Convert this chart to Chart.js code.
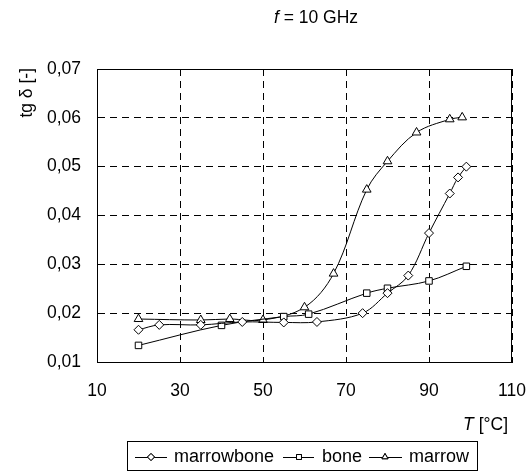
<!DOCTYPE html>
<html><head><meta charset="utf-8">
<script src="https://cdn.jsdelivr.net/npm/chart.js"></script>
<style>html,body{margin:0;padding:0;background:#fff}#wrap{width:531px;height:472px}</style>
</head><body><div id="wrap"><canvas id="c" width="531" height="472"></canvas></div>
<script>
const marrowboneT = [20,25,35,45,55,63,74,80,85,90,95,97,99];
const marrowboneV = [0.0166,0.0176,0.0176,0.0182,0.0181,0.0182,0.0200,0.0241,0.0277,0.0364,0.0445,0.0478,0.0500];
const boneT = [20,40,55,61,75,80,90,99];
const boneV = [0.0134,0.0175,0.0193,0.0198,0.0241,0.0251,0.0266,0.0296];
const marrowT = [20,35,42,50,60,67,75,80,87,95,98];
const marrowV = [0.0188,0.0186,0.0188,0.0186,0.0212,0.0281,0.0453,0.0511,0.0570,0.0597,0.0601];
const seriesNames = ['marrowbone','bone','marrow'];
const xTicks = [10,30,50,70,90,110];
const yTicks = [0.01,0.02,0.03,0.04,0.05,0.06,0.07];

const FONT = '"Liberation Sans", Arial, sans-serif';
const FS = 17.5;
const LFS = 18;
function pts(xs, ys){ return xs.map((x,i)=>({x:x, y:ys[i]})); }
function ds(label, data, style, r){
  return {label, data, borderColor:'#000', borderWidth:1, backgroundColor:'#fff',
    pointStyle:style, pointRadius:r, pointHoverRadius:r, pointBorderColor:'#000',
    pointBackgroundColor:'#fff', pointBorderWidth:1, tension:0.35, fill:false};
}
const decor = {
  id:'decor',
  afterDraw(chart){
    const ctx = chart.ctx, a = chart.chartArea;
    ctx.save();
    ctx.strokeStyle = '#000'; ctx.lineWidth = 1; ctx.setLineDash([]);
    ctx.strokeRect(Math.round(a.left)+0.5, Math.round(a.top)+0.5, Math.round(a.right-a.left)-1, Math.round(a.bottom-a.top));
    ctx.fillStyle = '#000';
    ctx.textBaseline = 'middle';
    // title
    const t1 = 'f', t2 = ' = 10 GHz';
    ctx.font = 'italic ' + FS + 'px ' + FONT; const w1 = ctx.measureText(t1).width;
    ctx.font = FS + 'px ' + FONT; const w2 = ctx.measureText(t2).width;
    let sx = 316 - (w1 + w2)/2;
    ctx.font = 'italic ' + FS + 'px ' + FONT; ctx.textAlign='left'; ctx.fillText(t1, sx, 18);
    ctx.font = FS + 'px ' + FONT; ctx.fillText(t2, sx + w1, 18);
    // x title
    const x1 = 'T', x2 = ' [°C]';
    ctx.font = 'italic ' + FS + 'px ' + FONT; const xw1 = ctx.measureText(x1).width;
    ctx.font = FS + 'px ' + FONT; const xw2 = ctx.measureText(x2).width;
    sx = 508 - xw1 - xw2;
    ctx.font = 'italic ' + FS + 'px ' + FONT; ctx.fillText(x1, sx, 425);
    ctx.font = FS + 'px ' + FONT; ctx.fillText(x2, sx + xw1, 425);
    // y title
    ctx.save(); ctx.translate(27, 0); ctx.rotate(-Math.PI/2);
    ctx.textAlign = 'right'; ctx.font = FS + 'px ' + FONT; ctx.fillText('tg δ [-]', -68, 0);
    ctx.restore();
    // legend
    ctx.strokeRect(127.5, 441.5, 350, 29);
    const items = [{l0:135,l1:167,m:151,tx:174},{l0:283,l1:314,m:299,tx:322},{l0:369,l1:402,m:385,tx:409}];
    const ly = 457;
    chart.data.datasets.forEach((d,i)=>{
      const it = items[i];
      ctx.beginPath(); ctx.moveTo(it.l0, ly+0.5); ctx.lineTo(it.l1, ly+0.5); ctx.stroke();
      Chart.helpers.drawPoint(ctx, {pointStyle:d.pointStyle, radius:3.5, borderWidth:1}, it.m, ly);
      ctx.fillStyle='#fff'; ctx.fill(); ctx.stroke(); ctx.fillStyle='#000';
      ctx.font = LFS + 'px ' + FONT; ctx.textAlign='left'; ctx.fillText(d.label, it.tx, ly);
    });
    ctx.restore();
  }
};
new Chart(document.getElementById('c'), {
  type:'line',
  data:{datasets:[
    ds(seriesNames[0], pts(marrowboneT, marrowboneV), 'rectRot', 4.5),
    ds(seriesNames[1], pts(boneT, boneV), 'rect', 4.6),
    ds(seriesNames[2], pts(marrowT, marrowV), 'triangle', 5)
  ]},
  options:{
    responsive:false, animation:false, events:[],
    layout:{padding:{left:0,right:19,top:69,bottom:0}},
    plugins:{legend:{display:false}, title:{display:false}, tooltip:{enabled:false}},
    scales:{
      x:{type:'linear', min:10, max:110,
        afterFit(s){ s.height = 110; s.paddingLeft = 0; s.paddingRight = 0; },
        afterBuildTicks(s){ s.ticks = xTicks.map(v=>({value:v})); },
        ticks:{padding:19, color:'#000', font:{family:FONT, size:FS}, maxRotation:0},
        grid:{color:'#000', lineWidth:1, drawTicks:false},
        border:{display:true, color:'#000', dash:[7,5]}},
      y:{type:'linear', min:0.01, max:0.07,
        afterFit(s){ s.width = 97; s.paddingTop = 0; s.paddingBottom = 0; },
        afterBuildTicks(s){ s.ticks = yTicks.map(v=>({value:v})); },
        ticks:{padding:16, color:'#000', font:{family:FONT, size:FS},
          callback:(v)=>v.toFixed(2).replace('.',',')},
        grid:{color:'#000', lineWidth:1, drawTicks:false},
        border:{display:true, color:'#000', dash:[7,5]}}
    }
  },
  plugins:[decor]
});
</script></body></html>
